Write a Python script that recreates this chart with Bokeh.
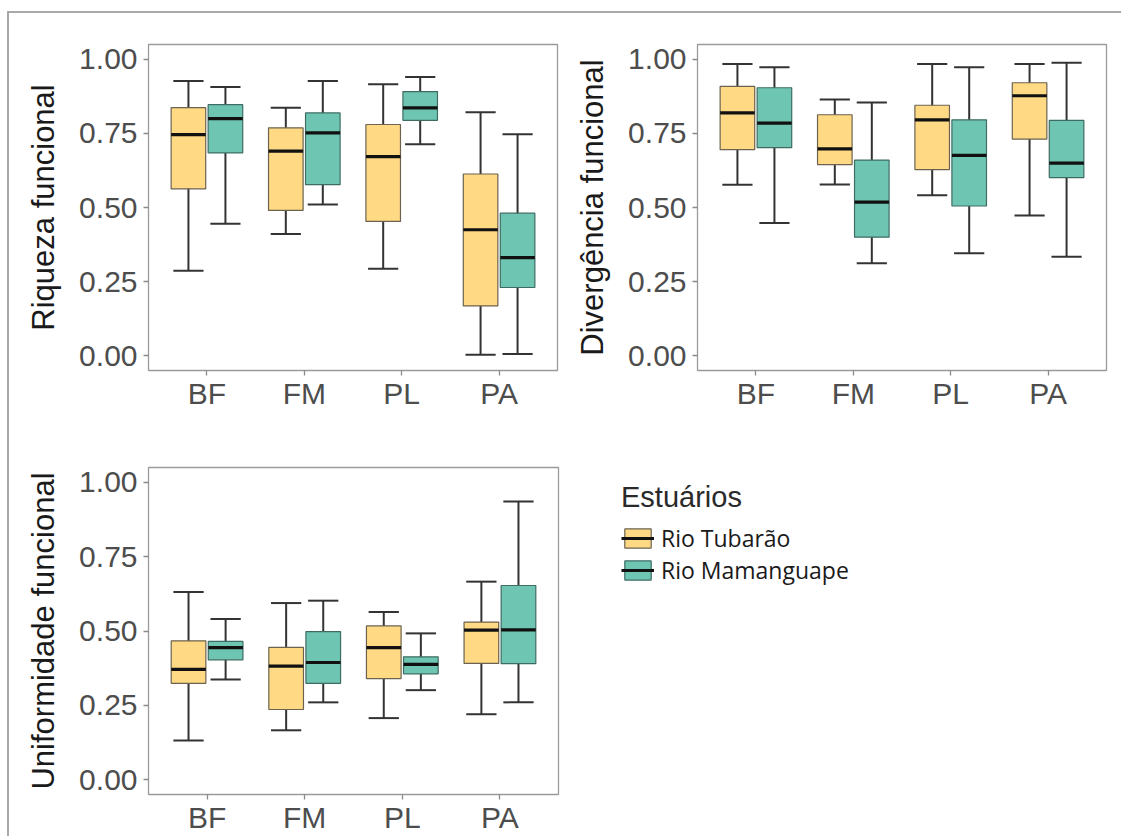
from bokeh.plotting import figure
from bokeh.models import (ColumnDataSource, Range1d, FixedTicker, Whisker, TeeHead,
                          Legend, LegendItem)
from bokeh.layouts import row, column
from bokeh.embed import file_html
from bokeh.resources import INLINE

categories = ["BF", "FM", "PL", "PA"]
estuaries = ["Rio Tubarão", "Rio Mamanguape"]
legend_title = "Estuários"
y_ticks = [0.0, 0.25, 0.5, 0.75, 1.0]
y_tick_labels = ["0.00", "0.25", "0.50", "0.75", "1.00"]

# Riqueza funcional (lower whisker, Q1, median, Q3, upper whisker)
riq_tub_low = [0.287, 0.411, 0.293, 0.003]
riq_tub_q1 = [0.563, 0.490, 0.453, 0.168]
riq_tub_med = [0.746, 0.690, 0.672, 0.425]
riq_tub_q3 = [0.837, 0.769, 0.780, 0.613]
riq_tub_up = [0.927, 0.837, 0.916, 0.821]
riq_mam_low = [0.445, 0.510, 0.713, 0.006]
riq_mam_q1 = [0.684, 0.577, 0.794, 0.230]
riq_mam_med = [0.800, 0.752, 0.836, 0.331]
riq_mam_q3 = [0.847, 0.819, 0.891, 0.481]
riq_mam_up = [0.907, 0.927, 0.940, 0.747]

# Divergência funcional
div_tub_low = [0.577, 0.578, 0.541, 0.473]
div_tub_q1 = [0.695, 0.645, 0.628, 0.731]
div_tub_med = [0.819, 0.698, 0.796, 0.877]
div_tub_q3 = [0.909, 0.813, 0.845, 0.921]
div_tub_up = [0.984, 0.864, 0.984, 0.984]
div_mam_low = [0.448, 0.312, 0.346, 0.334]
div_mam_q1 = [0.702, 0.400, 0.505, 0.601]
div_mam_med = [0.785, 0.518, 0.676, 0.650]
div_mam_q3 = [0.904, 0.660, 0.796, 0.794]
div_mam_up = [0.973, 0.854, 0.973, 0.988]

# Uniformidade funcional
uni_tub_low = [0.132, 0.166, 0.207, 0.220]
uni_tub_q1 = [0.324, 0.236, 0.340, 0.391]
uni_tub_med = [0.371, 0.382, 0.444, 0.503]
uni_tub_q3 = [0.467, 0.445, 0.517, 0.530]
uni_tub_up = [0.631, 0.594, 0.564, 0.666]
uni_mam_low = [0.337, 0.260, 0.301, 0.260]
uni_mam_q1 = [0.403, 0.324, 0.356, 0.390]
uni_mam_med = [0.444, 0.394, 0.388, 0.504]
uni_mam_q3 = [0.465, 0.498, 0.413, 0.653]
uni_mam_up = [0.540, 0.602, 0.492, 0.936]

FILL = ["#FFD983", "#6EC6B2"]
EDGE = ["#6b6350", "#3e6c63"]
OFFSETS = [-0.19, 0.19]
BOX_W = 0.355
CAP_W = 0.31
FONT = "Liberation Sans"


def make_panel(ylabel, stats, fw, fh, mb_left, mb_top, mb_right, mb_bottom):
    p = figure(frame_width=fw, frame_height=fh,
               min_border_left=mb_left, min_border_top=mb_top,
               min_border_right=mb_right, min_border_bottom=mb_bottom,
               x_range=Range1d(0.4, 4.6), y_range=Range1d(-0.05, 1.05),
               output_backend="svg", toolbar_location=None, tools="")
    cap_px = CAP_W * fw / 4.2
    for g, (low, q1, med, q3, up) in enumerate(stats):
        x = [i + 1 + OFFSETS[g] for i in range(len(categories))]
        src = ColumnDataSource(dict(
            x=x,
            x0=[v - BOX_W / 2 for v in x],
            x1=[v + BOX_W / 2 for v in x],
            low=low, q1=q1, med=med, q3=q3, up=up))
        w = Whisker(source=src, base="x", lower="low", upper="up",
                    line_color="#333333", line_width=2, level="underlay",
                    upper_head=TeeHead(size=cap_px, line_color="#333333", line_width=2),
                    lower_head=TeeHead(size=cap_px, line_color="#333333", line_width=2))
        p.add_layout(w)
        p.vbar(x="x", width=BOX_W, bottom="q1", top="q3", source=src,
               fill_color=FILL[g], line_color=EDGE[g], line_width=1.2)
        p.segment(x0="x0", x1="x1", y0="med", y1="med", source=src,
                  line_color="#111111", line_width=3.2)

    p.xaxis.ticker = FixedTicker(ticks=[i + 1 for i in range(len(categories))])
    p.xaxis.major_label_overrides = {i + 1: c for i, c in enumerate(categories)}
    p.yaxis.ticker = FixedTicker(ticks=y_ticks)
    p.yaxis.major_label_overrides = {t: l for t, l in zip(y_ticks, y_tick_labels)}
    p.yaxis.axis_label = ylabel

    p.xgrid.visible = False
    p.ygrid.visible = False
    p.outline_line_color = "#9a9a9a"
    p.outline_line_width = 1.3
    p.background_fill_color = "white"
    p.border_fill_color = "white"
    for ax in (p.xaxis, p.yaxis):
        ax.axis_line_color = None
        ax.major_tick_line_color = "#8a8a8a"
        ax.major_tick_line_width = 1.3
        ax.major_tick_out = 5
        ax.major_tick_in = 0
        ax.minor_tick_line_color = None
        ax.major_label_text_font = FONT
        ax.major_label_text_font_size = "30px"
        ax.major_label_text_color = "#4d4d4d"
        ax.axis_label_text_font = FONT
        ax.axis_label_text_font_size = "31px"
        ax.axis_label_text_font_style = "normal"
        ax.axis_label_text_color = "#1a1a1a"
    p.xaxis.major_label_standoff = 1
    p.yaxis.major_label_standoff = 6
    p.yaxis.axis_label_standoff = 15
    return p


p1 = make_panel("Riqueza funcional",
                [(riq_tub_low, riq_tub_q1, riq_tub_med, riq_tub_q3, riq_tub_up),
                 (riq_mam_low, riq_mam_q1, riq_mam_med, riq_mam_q3, riq_mam_up)],
                409, 326, 139, 31, 3, 60)
p2 = make_panel("Divergência funcional",
                [(div_tub_low, div_tub_q1, div_tub_med, div_tub_q3, div_tub_up),
                 (div_mam_low, div_mam_q1, div_mam_med, div_mam_q3, div_mam_up)],
                409, 326, 137, 31, 15, 60)
p3 = make_panel("Uniformidade funcional",
                [(uni_tub_low, uni_tub_q1, uni_tub_med, uni_tub_q3, uni_tub_up),
                 (uni_mam_low, uni_mam_q1, uni_mam_med, uni_mam_q3, uni_mam_up)],
                410, 327, 139, 37, 2, 42)

# Legend panel
LH = 404
lf = figure(width=561, height=LH, x_range=Range1d(0, 1), y_range=Range1d(0, 1),
            x_axis_type=None, y_axis_type=None, min_border=0,
            output_backend="svg", toolbar_location=None, tools="")
lf.frame_align = False
lf.xgrid.visible = False
lf.ygrid.visible = False
lf.outline_line_color = None
lf.background_fill_color = "white"
lf.border_fill_color = "white"

items = []
for g in range(2):
    rb = lf.vbar(x=[5], width=0.3, bottom=[5], top=[6], fill_color=FILL[g],
                 line_color=EDGE[g], line_width=1.2)
    rm = lf.segment(x0=[5], x1=[6], y0=[5.5], y1=[5.5], line_color="#111111", line_width=3)
    items.append(LegendItem(label=estuaries[g], renderers=[rb, rm]))

common = dict(glyph_width=33, glyph_height=24, label_height=20, label_standoff=7,
              padding=0, margin=0, spacing=0, border_line_color=None,
              background_fill_alpha=0, label_text_font="Open Sans",
              label_text_font_size="23px", label_text_color="#1a1a1a")
LX = 61
legA = Legend(items=[items[0]], location=(LX, LH - 124), title=legend_title,
              title_text_font=FONT, title_text_font_size="29px",
              title_text_font_style="normal", title_text_color="#2a2a2a",
              title_standoff=8, **common)
legB = Legend(items=[items[1]], location=(LX, LH - 156), **common)
lf.add_layout(legA)
lf.add_layout(legB)

layout = row(column(p1, p3), column(p2, lf), margin=(11, 0, 0, 7),
             styles={"border-top": "2px solid #a8a8a8",
                     "border-left": "2px solid #a8a8a8"})

open("out.html", "w").write(file_html(layout, INLINE))
